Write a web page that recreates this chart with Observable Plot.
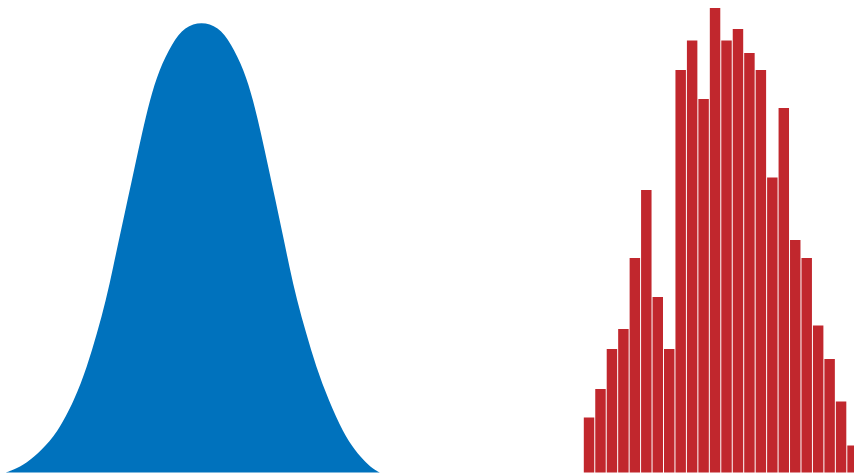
<!DOCTYPE html>
<html><head><meta charset="utf-8">
<script src="https://cdn.jsdelivr.net/npm/d3@7"></script>
<script src="https://cdn.jsdelivr.net/npm/@observablehq/plot@0.6"></script>
<style>
html,body{margin:0;padding:0;background:#fff;overflow:hidden}
#wrap{position:relative;width:854px;height:475px;overflow:hidden}
#left{position:absolute;left:0;top:0}
#right{position:absolute;left:580px;top:0}
</style></head><body><div id="wrap"><div id="left"></div><div id="right"></div></div>
<script>
// Theoretical density curve (x in standard units, y = density)
const curveX = [-3.262, -3.14, -2.917, -2.667, -2.408, -2.117, -1.908, -1.742, -1.592, -1.472, -1.353, -1.233, -1.113, -0.992, -0.862, -0.708, -0.492, -0.278, 0,
                0.278, 0.492, 0.708, 0.862, 0.992, 1.113, 1.233, 1.35, 1.465, 1.59, 1.745, 1.91, 2.117, 2.367, 2.555, 2.75, 2.888, 2.972];
const curveY = [0, 0.0022, 0.0082, 0.0200, 0.0348, 0.0643, 0.0938, 0.1235, 0.1530, 0.1825, 0.2122, 0.2417, 0.2712, 0.3009, 0.3304, 0.3570, 0.3807, 0.3954, 0.4000,
                0.3954, 0.3807, 0.3570, 0.3304, 0.3009, 0.2712, 0.2417, 0.2122, 0.1825, 0.1530, 0.1235, 0.0938, 0.0643, 0.0348, 0.0200, 0.0082, 0.0022, 0];

// Sample histogram: bins of width 0.25 from -3 to 3
const binStart = [-3, -2.75, -2.5, -2.25, -2, -1.75, -1.5, -1.25, -1, -0.75, -0.5, -0.25, 0, 0.25, 0.5, 0.75, 1, 1.25, 1.5, 1.75, 2, 2.25, 2.5, 2.75];
const binCounts = [11.0, 16.7, 24.7, 28.7, 42.9, 56.5, 35.1, 24.7, 80.5, 86.4, 74.7, 92.9, 86.4, 88.7, 83.9, 80.5, 59.0, 72.9, 46.5, 42.9, 29.4, 22.7, 14.2, 5.4];
const binWidth = 0.25;

const blue = "#0072bd";
const red = "#c1272d";

const curve = curveX.map((x, i) => ({x, y: curveY[i]}));
const bins = binStart.map((x, i) => ({x1: x, x2: x + binWidth, count: binCounts[i]}));

const left = Plot.plot({
  width: 400, height: 475,
  marginTop: 0, marginBottom: 2.5, marginLeft: 0, marginRight: 0,
  x: {domain: [-3.36, 3.31], axis: null},
  y: {domain: [0, 0.419], axis: null},
  marks: [
    Plot.areaY(curve, {x: "x", y: "y", fill: blue, curve: "basis"})
  ]
});
document.getElementById("left").appendChild(left);

const right = Plot.plot({
  width: 274, height: 475,
  marginTop: 0, marginBottom: 2.5, marginLeft: 0, marginRight: 0,
  x: {domain: [-3.072, 2.907], axis: null},
  y: {domain: [0, 94.5], axis: null},
  marks: [
    Plot.rectY(bins, {x1: "x1", x2: "x2", y: "count", fill: red, insetLeft: 0.5, insetRight: 0.5})
  ]
});
document.getElementById("right").appendChild(right);
</script></body></html>
